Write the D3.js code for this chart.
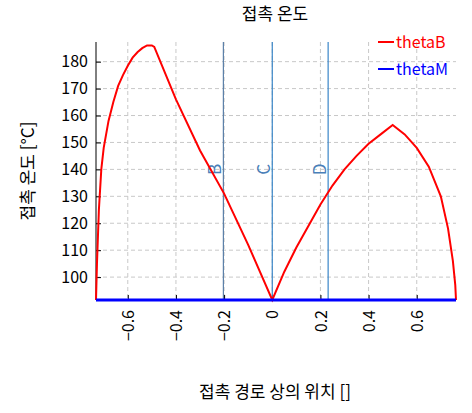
<!DOCTYPE html>
<html><head><meta charset="utf-8">
<script src="https://cdn.jsdelivr.net/npm/d3@7"></script>
<style>body{margin:0;background:#fff}text{font-family:"Noto Sans CJK KR","Noto Sans",sans-serif}</style>
</head><body><div id="chart"></div>
<script>
var xTicks = [-0.6, -0.4, -0.2, 0, 0.2, 0.4, 0.6];
var yTicks = [100, 110, 120, 130, 140, 150, 160, 170, 180];
var thetaBx = [-0.732, -0.728, -0.72, -0.71, -0.70, -0.68, -0.66, -0.64, -0.62, -0.60, -0.58, -0.56, -0.54, -0.52, -0.50, -0.49, -0.40, -0.30, -0.20, -0.10, 0,
               0.05, 0.10, 0.15, 0.20, 0.25, 0.30, 0.35, 0.40, 0.45, 0.50, 0.55, 0.60, 0.65, 0.70, 0.73, 0.75, 0.76, 0.763];
var thetaBy = [91.5, 105, 125, 140, 148, 158, 165, 171, 175, 178.5, 181.5, 183.5, 185, 186, 186, 185.5, 166, 147, 131, 112, 91.5,
               102, 111, 119, 127, 134, 140, 145, 149.5, 153, 156.5, 153, 148, 141, 130, 118, 106, 97, 91.5];
var thetaMx = [-0.732, 0.763];
var thetaMy = [91.5, 91.5];
var markX = [-0.203, 0, 0.232];
var markLabels = ["B", "C", "D"];

var W = 472, H = 413, m = {l: 96, r: 16, t: 42, b: 113};
var svg = d3.select("#chart").append("svg").attr("width", W).attr("height", H);
var x = d3.scaleLinear().domain([-0.732, 0.763]).range([m.l, W - m.r]);
var y = d3.scaleLinear().domain([91.5, 187.3]).range([H - m.b, m.t]);

var grid = svg.append("g").attr("stroke", "#c8c8c8").attr("stroke-dasharray", "4,3");
xTicks.forEach(function(t){ grid.append("line").attr("x1", x(t)).attr("x2", x(t)).attr("y1", m.t).attr("y2", H - m.b); });
yTicks.forEach(function(t){ grid.append("line").attr("x1", m.l).attr("x2", W - m.r).attr("y1", y(t)).attr("y2", y(t)); });

var xa = svg.append("g").attr("transform", "translate(0," + (H - m.b) + ")")
    .call(d3.axisBottom(x).tickValues(xTicks).tickSize(-5).tickFormat(d3.format("")));
xa.selectAll("text").attr("transform", "rotate(-90)").attr("text-anchor", "end")
    .attr("x", -10).attr("y", 0).attr("dy", "0.35em").style("font-size", "16px");
var ya = svg.append("g").attr("transform", "translate(" + m.l + ",0)")
    .call(d3.axisLeft(y).tickValues(yTicks).tickSize(-5));
ya.selectAll("text").attr("x", -8).style("font-size", "16px");
[xa, ya].forEach(function(a){ a.select(".domain").remove(); a.selectAll("line").attr("stroke", "#000"); });
svg.append("line").attr("x1", m.l).attr("x2", m.l).attr("y1", m.t).attr("y2", H - m.b).attr("stroke", "#000");

var g = svg.append("g");
markX.forEach(function(v, i){
  g.append("line").attr("x1", x(v)).attr("x2", x(v)).attr("y1", m.t).attr("y2", H - m.b)
    .attr("stroke", i == 0 ? "#5b7fa8" : "#3a86c8").attr("stroke-width", 1.2);
  g.append("text").attr("transform", "translate(" + (x(v) - 2) + "," + y(140) + ") rotate(-90)")
    .attr("text-anchor", "middle").attr("fill", "#4a7fb8").style("font-size", "17px").text(markLabels[i]);
});

var line = d3.line().x(function(d){ return x(d[0]); }).y(function(d){ return y(d[1]); });
svg.append("path").datum(d3.zip(thetaBx, thetaBy)).attr("d", line).attr("fill", "none").attr("stroke", "#f00").attr("stroke-width", 2);
svg.append("path").datum(d3.zip(thetaMx, thetaMy)).attr("d", line).attr("fill", "none").attr("stroke", "#00f").attr("stroke-width", 3);

var leg = [["thetaB", "#f00"], ["thetaM", "#00f"]];
leg.forEach(function(l, i){
  var yy = 42 + i * 27;
  svg.append("line").attr("x1", 378).attr("x2", 394).attr("y1", yy).attr("y2", yy).attr("stroke", l[1]).attr("stroke-width", 2);
  svg.append("text").attr("x", 396).attr("y", yy + 6).attr("fill", l[1]).style("font-size", "16px").text(l[0]);
});

svg.append("text").attr("x", 275).attr("y", 20).attr("text-anchor", "middle").style("font-size", "17px").text("접촉 온도");
svg.append("text").attr("x", 275).attr("y", 398).attr("text-anchor", "middle").style("font-size", "17px").text("접촉 경로 상의 위치 []");
svg.append("text").attr("transform", "translate(34," + ((m.t + H - m.b) / 2) + ") rotate(-90)")
  .attr("text-anchor", "middle").style("font-size", "17px").text("접촉 온도 [°C]");
</script></body></html>
